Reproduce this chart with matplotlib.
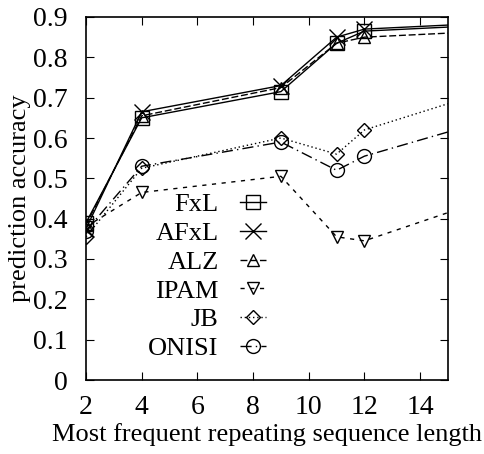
import matplotlib
matplotlib.use("Agg")
import matplotlib.pyplot as plt

plt.rcParams['font.family'] = ['Liberation Serif', 'DejaVu Serif']

# Longitud de secuencia (el ultimo punto queda en el borde, sin marcador)
longitud = [2, 4, 9, 11, 12, 15]

fxl = [0.39, 0.65, 0.715, 0.835, 0.865, 0.875]
afxl = [0.375, 0.665, 0.73, 0.85, 0.87, 0.88]
alz = [0.385, 0.655, 0.725, 0.835, 0.85, 0.86]
ipam = [0.38, 0.465, 0.505, 0.355, 0.345, 0.415]
jb = [0.355, 0.525, 0.60, 0.56, 0.62, 0.685]
onisi = [0.37, 0.53, 0.59, 0.52, 0.555, 0.615]

nombres = ["FxL", "AFxL", "ALZ", "IPAM", "JB", "ONISI"]
series = [fxl, afxl, alz, ipam, jb, onisi]
marcadores = ["s", "x", "^", "v", "D", "o"]
estilos = ["-", "-", (0, (5, 2)), (0, (3, 4)), (0, (1, 2)), (0, (8, 3, 1, 3))]
tamanos = [10, 11, 9, 9, 7, 10]

fig = plt.figure(figsize=(4.85, 4.54), dpi=100)
ax = fig.add_axes([86 / 485, 1 - 380 / 454, (448 - 86) / 485, (380 - 17) / 454])

for nombre, datos, m, ls, ms in zip(nombres, series, marcadores, estilos, tamanos):
    ax.plot(longitud, datos, color="black", linestyle=ls, linewidth=1.0,
            marker=m, markersize=ms, markerfacecolor="none",
            markeredgecolor="black", markeredgewidth=1.0,
            markevery=[0, 1, 2, 3, 4], label=nombre)

ax.set_xlim(2, 15)
ax.set_ylim(0, 0.9)
ax.set_xticks([2, 4, 6, 8, 10, 12, 14])
ax.set_yticks([0, 0.1, 0.2, 0.3, 0.4, 0.5, 0.6, 0.7, 0.8, 0.9])
ax.set_yticklabels(["0", "0.1", "0.2", "0.3", "0.4", "0.5", "0.6", "0.7", "0.8", "0.9"])
ax.tick_params(direction="in", top=True, right=True, length=6, labelsize=20)
ax.tick_params(axis="x", pad=11)
ax.tick_params(axis="y", pad=13)
for s in ax.spines.values():
    s.set_linewidth(1.2)

ax.set_xlabel("Most frequent repeating sequence length", fontsize=19, labelpad=2)
ax.set_ylabel("prediction accuracy", fontsize=19, labelpad=2)

ax.legend(loc="center", bbox_to_anchor=(0.335, 0.285), frameon=False,
          markerfirst=False, fontsize=19, handlelength=1.0,
          labelspacing=0.2, handletextpad=0.8)

fig.savefig("out.png", dpi=100)
